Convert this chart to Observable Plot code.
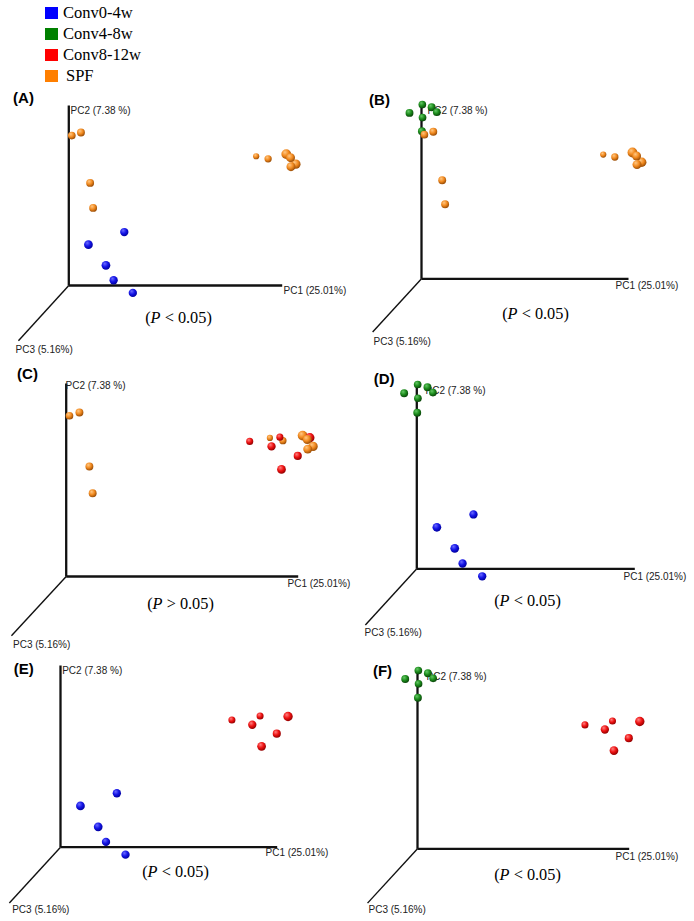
<!DOCTYPE html>
<html><head><meta charset="utf-8">
<script src="https://cdn.jsdelivr.net/npm/d3@7"></script>
<script src="https://cdn.jsdelivr.net/npm/@observablehq/plot@0.6"></script>
<style>
html,body{margin:0;padding:0;background:#fff;}
#fig{position:relative;width:694px;height:921px;overflow:hidden;background:#fff;}
.panel{position:absolute;}
.legend{position:absolute;left:45px;top:2px;font-family:"Liberation Serif","Times New Roman",serif;font-size:16.5px;color:#000;}
.legend .row{display:flex;align-items:center;height:21px;}
.legend .sw{width:13px;height:12px;margin-right:5px;flex:none;}
</style></head><body>
<div id="fig"></div>
<script>
// ---- data ----
const groups = ["Conv0-4w", "Conv4-8w", "Conv8-12w", "SPF"];
const groupColors = ["#0000ff", "#008000", "#ff0000", "#ff7f00"];
// each point: [PC1 projected, PC2 projected, PC3 depth]
const conv04w = [[0.260,0.297,0.6],[0.092,0.227,0.7],[0.174,0.112,0.7],[0.210,0.029,0.6],[0.300,-0.041,0.6]];
const conv48w = [[0.004,1.007,0.45],[-0.058,0.959,0.5],[0.005,0.932,0.45],[0.049,0.992,0.5],[0.074,0.963,0.45],[0.002,0.853,0.5]];
const conv812w = [[0.791,0.700,0.3],[0.885,0.674,0.6],[0.921,0.722,0.3],[1.050,0.719,0.85],[0.998,0.625,0.55],[0.928,0.555,0.7]];
const spf = [[0.014,0.833,0.45],[0.057,0.850,0.5],[0.100,0.570,0.5],[0.114,0.431,0.5],[0.878,0.718,0.1],[0.934,0.704,0.35],[1.019,0.730,0.95],[1.039,0.710,0.75],[1.041,0.660,0.75],[1.064,0.674,0.85]];
const groupData = [conv04w, conv48w, conv812w, spf];
const axisLabels = ["PC1 (25.01%)", "PC2 (7.38 %)", "PC3 (5.16%)"];
const pc3Axis = [-0.236, -0.307];
const panelLetters = ["(A)", "(B)", "(C)", "(D)", "(E)", "(F)"];
const panelPairs = [[0,3],[1,3],[2,3],[0,1],[0,2],[1,2]];
const pLabels = ["(P < 0.05)", "(P < 0.05)", "(P > 0.05)", "(P < 0.05)", "(P < 0.05)", "(P < 0.05)"];

// ---- layout (page pixels) ----
const layout = [
  {left:0,   top:88,  h:272, ox:68.3,  oy:285,   lx:213.4, ly:180,   letter:[23,98],    pc1:[283,290],   pc2:[70,110.7],  pc3:[15,349.3],   p:[178,317]},
  {left:347, top:88,  h:272, ox:421,   oy:278.3, lx:207,   ly:173,   letter:[379,100],  pc1:[615,285],   pc2:[427,110],   pc3:[373,341],    p:[535,313]},
  {left:0,   top:360, h:295, ox:65.7,  oy:576,   lx:232,   ly:193,   letter:[27,373.5], pc1:[287,583],   pc2:[65,385],    pc3:[12.5,644],   p:[180,603]},
  {left:347, top:360, h:295, ox:416.3, oy:568.3, lx:218,   ly:183,   letter:[383.7,378.3], pc1:[623,576], pc2:[425,390],   pc3:[364,632.5],  p:[527,600.7]},
  {left:0,   top:655, h:266, ox:60,    oy:846.7, lx:216.7, ly:181.7, letter:[23.3,668.3], pc1:[265,852],  pc2:[61.7,670],  pc3:[11.7,909.3], p:[175,871.7]},
  {left:347, top:655, h:266, ox:417,   oy:848.3, lx:211.7, ly:177,   letter:[382,670.7], pc1:[615,856.7], pc2:[426,676],   pc3:[368,909.3],  p:[527,874]}
];
const W = 347;
const fig = document.getElementById("fig");
const ns = "http://www.w3.org/2000/svg";

// sphere gradients
const grads = [
  ["#6a6aff", "#1414e6", "#0000a0"],
  ["#66c866", "#1c8c1c", "#0a460a"],
  ["#ff8080", "#ee1111", "#930000"],
  ["#ffc884", "#f28a1f", "#9c4e06"]
];
const defsSvg = document.createElementNS(ns, "svg");
defsSvg.setAttribute("width", 0); defsSvg.setAttribute("height", 0);
defsSvg.style.position = "absolute";
let defsHtml = "<defs>";
grads.forEach((g, i) => {
  defsHtml += `<radialGradient id="sph${i}" cx="0.4" cy="0.36" r="0.64" fx="0.36" fy="0.3">
    <stop offset="0" stop-color="${g[0]}"/><stop offset="0.55" stop-color="${g[1]}"/><stop offset="1" stop-color="${g[2]}"/></radialGradient>`;
});
defsHtml += "</defs>";
defsSvg.innerHTML = defsHtml;
fig.appendChild(defsSvg);

// legend
const leg = document.createElement("div");
leg.className = "legend";
groups.forEach((g, i) => {
  const row = document.createElement("div"); row.className = "row";
  const sw = document.createElement("div"); sw.className = "sw"; sw.style.background = groupColors[i];
  const lb = document.createElement("span"); lb.textContent = g;
  if (g === "SPF") lb.style.marginLeft = "3px";
  row.append(sw, lb); leg.appendChild(row);
});
fig.appendChild(leg);

const sans = "'Liberation Sans', Arial, sans-serif";
const serif = "'Liberation Serif', 'Times New Roman', serif";

layout.forEach((L, k) => {
  const pts = [];
  panelPairs[k].forEach(gi => groupData[gi].forEach(p => pts.push({pc1: p[0], pc2: p[1], pc3: p[2], g: groups[gi]})));
  pts.sort((a, b) => a.pc3 - b.pc3);
  const axes = [{x1:0,y1:0,x2:1,y2:0},{x1:0,y1:0,x2:0,y2:1}];
  const depthAxis = [{x1:0,y1:0,x2:pc3Axis[0],y2:pc3Axis[1]}];
  const at = (pos, text, opts) => Plot.text([text], {frameAnchor: "top-left", dx: pos[0] - L.left, dy: pos[1] - L.top, text: d => d, lineAnchor: "middle", ...opts});
  const chart = Plot.plot({
    width: W, height: L.h,
    margin: 0,
    style: {overflow: "visible", background: "transparent"},
    x: {domain: [0, 1], range: [L.ox - L.left, L.ox - L.left + L.lx], axis: null},
    y: {domain: [0, 1], range: [L.oy - L.top, L.oy - L.top - L.ly], axis: null},
    r: {type: "linear", domain: [0, 1], range: [2.9, 5.0]},
    color: {domain: groups, range: groups.map((g, i) => `url(#sph${i})`)},
    marks: [
      Plot.link(axes, {x1: "x1", y1: "y1", x2: "x2", y2: "y2", stroke: "#111", strokeWidth: 2.3}),
      Plot.link(depthAxis, {x1: "x1", y1: "y1", x2: "x2", y2: "y2", stroke: "#111", strokeWidth: 1.4}),
      at(L.letter, panelLetters[k], {fontFamily: sans, fontSize: 15, fontWeight: "bold", textAnchor: "middle", fill: "#000"}),
      at(L.pc1, axisLabels[0], {fontFamily: sans, fontSize: 10, textAnchor: "start", fill: "#222"}),
      at(L.pc2, axisLabels[1], {fontFamily: sans, fontSize: 10, textAnchor: "start", fill: "#222"}),
      at(L.pc3, axisLabels[2], {fontFamily: sans, fontSize: 10, textAnchor: "start", fill: "#222"}),
      at(L.p, pLabels[k], {fontFamily: serif, fontSize: 16.3, textAnchor: "middle", fill: "#000"}),
      Plot.dot(pts, {x: "pc1", y: "pc2", r: "pc3", fill: "g", stroke: null})
    ]
  });
  // italic P in the significance label
  chart.querySelectorAll("text").forEach(t => {
    const s = t.textContent;
    if (s.startsWith("(P")) {
      t.textContent = "";
      const a = document.createElementNS(ns, "tspan"); a.textContent = "(";
      const b = document.createElementNS(ns, "tspan"); b.textContent = "P"; b.setAttribute("font-style", "italic");
      const c = document.createElementNS(ns, "tspan"); c.textContent = s.slice(2);
      t.append(a, b, c);
    }
  });
  const wrap = document.createElement("div");
  wrap.className = "panel";
  wrap.style.left = L.left + "px";
  wrap.style.top = L.top + "px";
  wrap.appendChild(chart);
  fig.appendChild(wrap);
});
</script>
</body></html>
